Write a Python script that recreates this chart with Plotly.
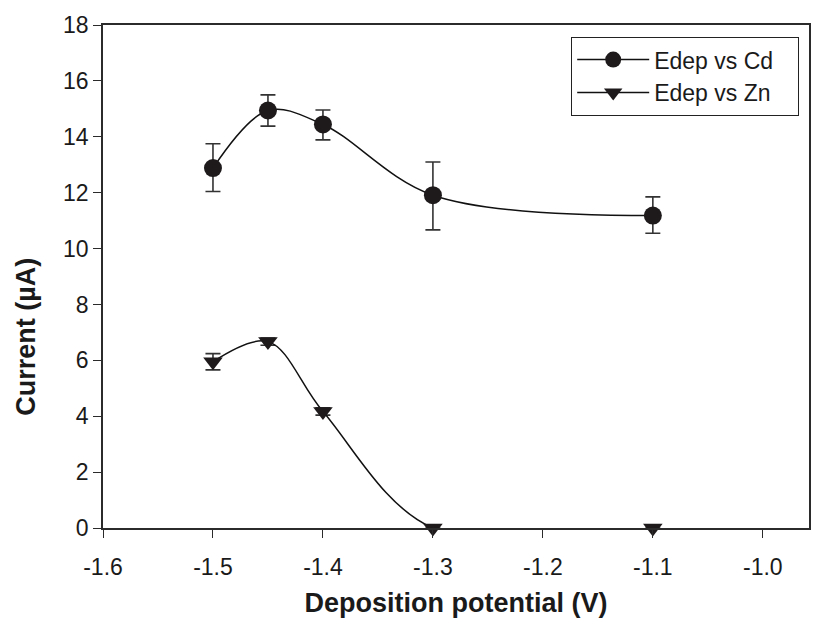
import plotly.graph_objects as go

potential = [-1.5, -1.45, -1.4, -1.3, -1.1]
cd_current = [12.88, 14.94, 14.44, 11.91, 11.18]
cd_err_plus = [0.87, 0.56, 0.52, 1.19, 0.67]
cd_err_minus = [0.84, 0.56, 0.55, 1.24, 0.63]
zn_current = [5.95, 6.67, 4.17, 0.0, 0.0]
zn_err = [0.29, 0.13, 0.13, 0.0, 0.0]
x_ticks = [-1.6, -1.5, -1.4, -1.3, -1.2, -1.1, -1.0]
y_ticks = [0, 2, 4, 6, 8, 10, 12, 14, 16, 18]

font_family = "Liberation Sans, Arial, sans-serif"
axis_color = "#2b2b2b"
L, R, T, B = 103, 24, 21, 96
W, H = 833, 625
plot_w = W - L - R
plot_h = H - T - B
pad = "\u00a0\u00a0\u00a0"

fig = go.Figure()
fig.add_trace(go.Scatter(
    x=potential, y=cd_current, name="Edep vs Cd" + pad,
    mode="lines+markers", cliponaxis=False,
    line=dict(color="#111111", width=1.5, shape="spline", smoothing=1.0),
    marker=dict(symbol="circle", size=18, color="#1e1a1b"),
    error_y=dict(type="data", array=cd_err_plus, arrayminus=cd_err_minus,
                 color="#333333", thickness=1.6, width=7.5),
))
fig.add_trace(go.Scatter(
    x=potential, y=zn_current, name="Edep vs Zn" + pad,
    mode="lines+markers", cliponaxis=False,
    line=dict(color="#111111", width=1.5, shape="spline", smoothing=1.0),
    marker=dict(symbol="triangle-down", size=17, color="#1e1a1b"),
    error_y=dict(type="data", array=zn_err, color="#333333", thickness=1.6, width=7.5),
))

fig.add_annotation(
    text="<b>Current (µA)</b>", textangle=-90,
    xref="paper", yref="paper",
    x=(26 - L) / plot_w, y=0.38, xanchor="center", yanchor="middle",
    showarrow=False, font=dict(size=27, family=font_family, color="#1a1a1a"),
)

fig.update_layout(
    width=W, height=H,
    margin=dict(l=L, r=R, t=T, b=B),
    paper_bgcolor="white", plot_bgcolor="white",
    font=dict(family=font_family, color="#1a1a1a", size=23),
    showlegend=True,
    legend=dict(
        x=(799 - L) / plot_w, y=(W * 0 + (H - B) - 33) / plot_h, xanchor="right", yanchor="top",
        bordercolor="#222222", borderwidth=1.2, bgcolor="white",
        font=dict(size=23, family=font_family, color="#1a1a1a"),
        itemwidth=72, tracegroupgap=0,
    ),
    xaxis=dict(
        range=[-1.6, -0.958], tickvals=x_ticks,
        ticktext=[f"{v:.1f}" for v in x_ticks],
        showgrid=False, zeroline=False,
        showline=True, linecolor=axis_color, linewidth=1.5, mirror=True,
        ticks="outside", ticklen=8, tickwidth=1.2, tickcolor=axis_color,
        tickfont=dict(size=23), ticklabelstandoff=10,
        title=dict(text="<b>Deposition potential (V)</b>", font=dict(size=27), standoff=14),
    ),
    yaxis=dict(
        range=[0, 18], tickvals=y_ticks,
        showgrid=False, zeroline=False,
        showline=True, linecolor=axis_color, linewidth=1.5, mirror=True,
        ticks="outside", ticklen=8, tickwidth=1.2, tickcolor=axis_color,
        tickfont=dict(size=23),
    ),
)

fig.write_html(
    "out.html",
    config={"displayModeBar": False},
    post_script="document.body.style.margin='0';document.body.style.padding='0';document.body.style.overflow='hidden';",
)
